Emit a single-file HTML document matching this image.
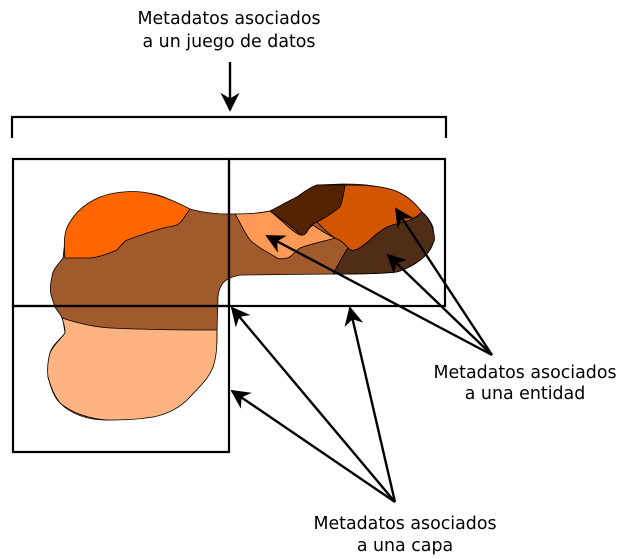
<!DOCTYPE html>
<html><head><meta charset="utf-8"><style>
html,body{margin:0;padding:0;background:#fff;}
svg{display:block;}
text{font-family:"DejaVu Sans","Liberation Sans",sans-serif;font-size:17.4px;fill:#000;text-anchor:middle;}
</style></head><body>
<svg width="623" height="559" viewBox="0 0 623 559">
<defs><marker id="ah" viewBox="0 0 10 10" refX="9" refY="5" markerWidth="8" markerHeight="8" markerUnits="strokeWidth" orient="auto"><path d="M0,0 L10,5 L0,10 L3,5 z" fill="#000"/></marker></defs>
<g stroke="#000" stroke-width="0.8">
<path fill="#a05a2c" d="M228,214 C215,214 200,212 190,209 C170,200 160,193 143,193 C110,193 88,203 83,210 C70,222 65,232 65,240 L63,258 C58,265 52,270 52,277 C50,285 50,290 51,295 L55,307 C58,312 62,316 63,320 L65,333 C60,340 52,345 50,353 C47,365 48,372 48,377 C52,392 55,398 60,403 C75,418 95,420 107,420 C125,419 140,419 153,417 C170,412 183,404 190,397 C200,382 210,375 213,367 C217,352 217,340 217,330 L218,297 C219,285 225,280 230,278 C235,276 240,275 243,275 L333,274 C360,274 380,274 397,272 C415,266 430,255 433,243 C435,236 433,230 433,227 C430,220 426,215 422,212 C412,200 405,194 393,190 C375,185 360,184 343,184 L317,185 C308,188 300,195 297,197 C285,205 278,210 270,211 C260,213 250,214 243,214 Z"/>
<path fill="#ff6600" d="M65,258 C64,245 63,232 70,222 C78,208 95,196 115,193 C143,188 165,196 190,209 C185,216 182,222 177,225 C170,227 167,227 163,228 C150,232 138,236 127,240 C122,243 120,247 117,250 C108,254 100,257 90,258 Z"/>
<path fill="#ffb380" d="M62,318 C80,324 95,327 110,328 C150,330 190,330 217,330 C217,345 217,355 213,367 C208,380 198,388 190,397 C180,408 168,414 153,417 C135,420 120,420 107,420 C90,419 72,413 60,403 C54,395 51,388 48,377 C47,368 48,360 50,353 C53,345 60,340 65,333 C65,325 63,322 62,318 Z"/>
<path fill="#ff9955" d="M235,214 C248,214 262,213 270,211 C282,220 292,232 300,235 C306,234 308,228 313,225 C320,230 328,235 335,238 C322,242 310,244 300,248 C294,252 292,257 287,258 C284,259 280,259 277,258 C268,252 258,248 250,240 C244,232 240,222 235,214 Z"/>
<path fill="#552200" d="M270,211 C280,206 290,200 297,197 C305,192 310,187 317,185 L345,185 C344,195 343,203 340,207 C333,214 325,218 317,222 C313,224 311,225 310,227 C307,231 306,235 303,235 C300,236 298,233 297,232 C290,225 280,218 270,211 Z"/>
<path fill="#d45500" d="M345,185 C365,185 380,186 393,190 C405,194 415,203 422,212 C418,216 414,218 410,220 C402,223 393,224 387,227 C380,231 374,236 370,240 C364,245 360,249 355,250 C352,251 350,250 348,248 C345,244 340,240 335,238 C328,234 322,227 317,222 C325,218 333,213 340,207 C343,200 344,192 345,185 Z"/>
<path fill="#502d16" d="M422,212 C428,218 432,224 433,230 C435,236 435,242 433,243 C430,255 415,266 397,272 C375,274 355,274 333,274 C338,265 343,255 348,248 C350,250 352,251 355,250 C360,249 365,244 370,240 C375,235 380,231 387,227 C393,224 402,223 410,220 C415,218 418,216 422,212 Z"/>
</g>
<g fill="none" stroke="#000" stroke-width="2.2">
<rect x="13" y="159" width="216" height="147"/>
<rect x="229" y="159" width="216" height="147"/>
<rect x="13" y="306" width="216" height="146"/>
</g>
<path d="M12,138 L12,117 L446,117 L446,138" fill="none" stroke="#000" stroke-width="2.2"/>
<g stroke="#000" stroke-width="2.4" marker-end="url(#ah)">
<line x1="230" y1="62" x2="230" y2="110"/>
<line x1="395" y1="502" x2="232" y2="308"/>
<line x1="395" y1="502" x2="232" y2="391"/>
<line x1="395" y1="502" x2="350" y2="308"/>
<line x1="492" y1="355" x2="396" y2="209"/>
<line x1="492" y1="355" x2="388" y2="255"/>
<line x1="492" y1="355" x2="267" y2="236"/>
</g>
<text x="229" y="24">Metadatos asociados</text>
<text x="229" y="47">a un juego de datos</text>
<text x="525" y="378">Metadatos asociados</text>
<text x="525" y="399">a una entidad</text>
<text x="405" y="529">Metadatos asociados</text>
<text x="405" y="551">a una capa</text>
</svg>
</body></html>
